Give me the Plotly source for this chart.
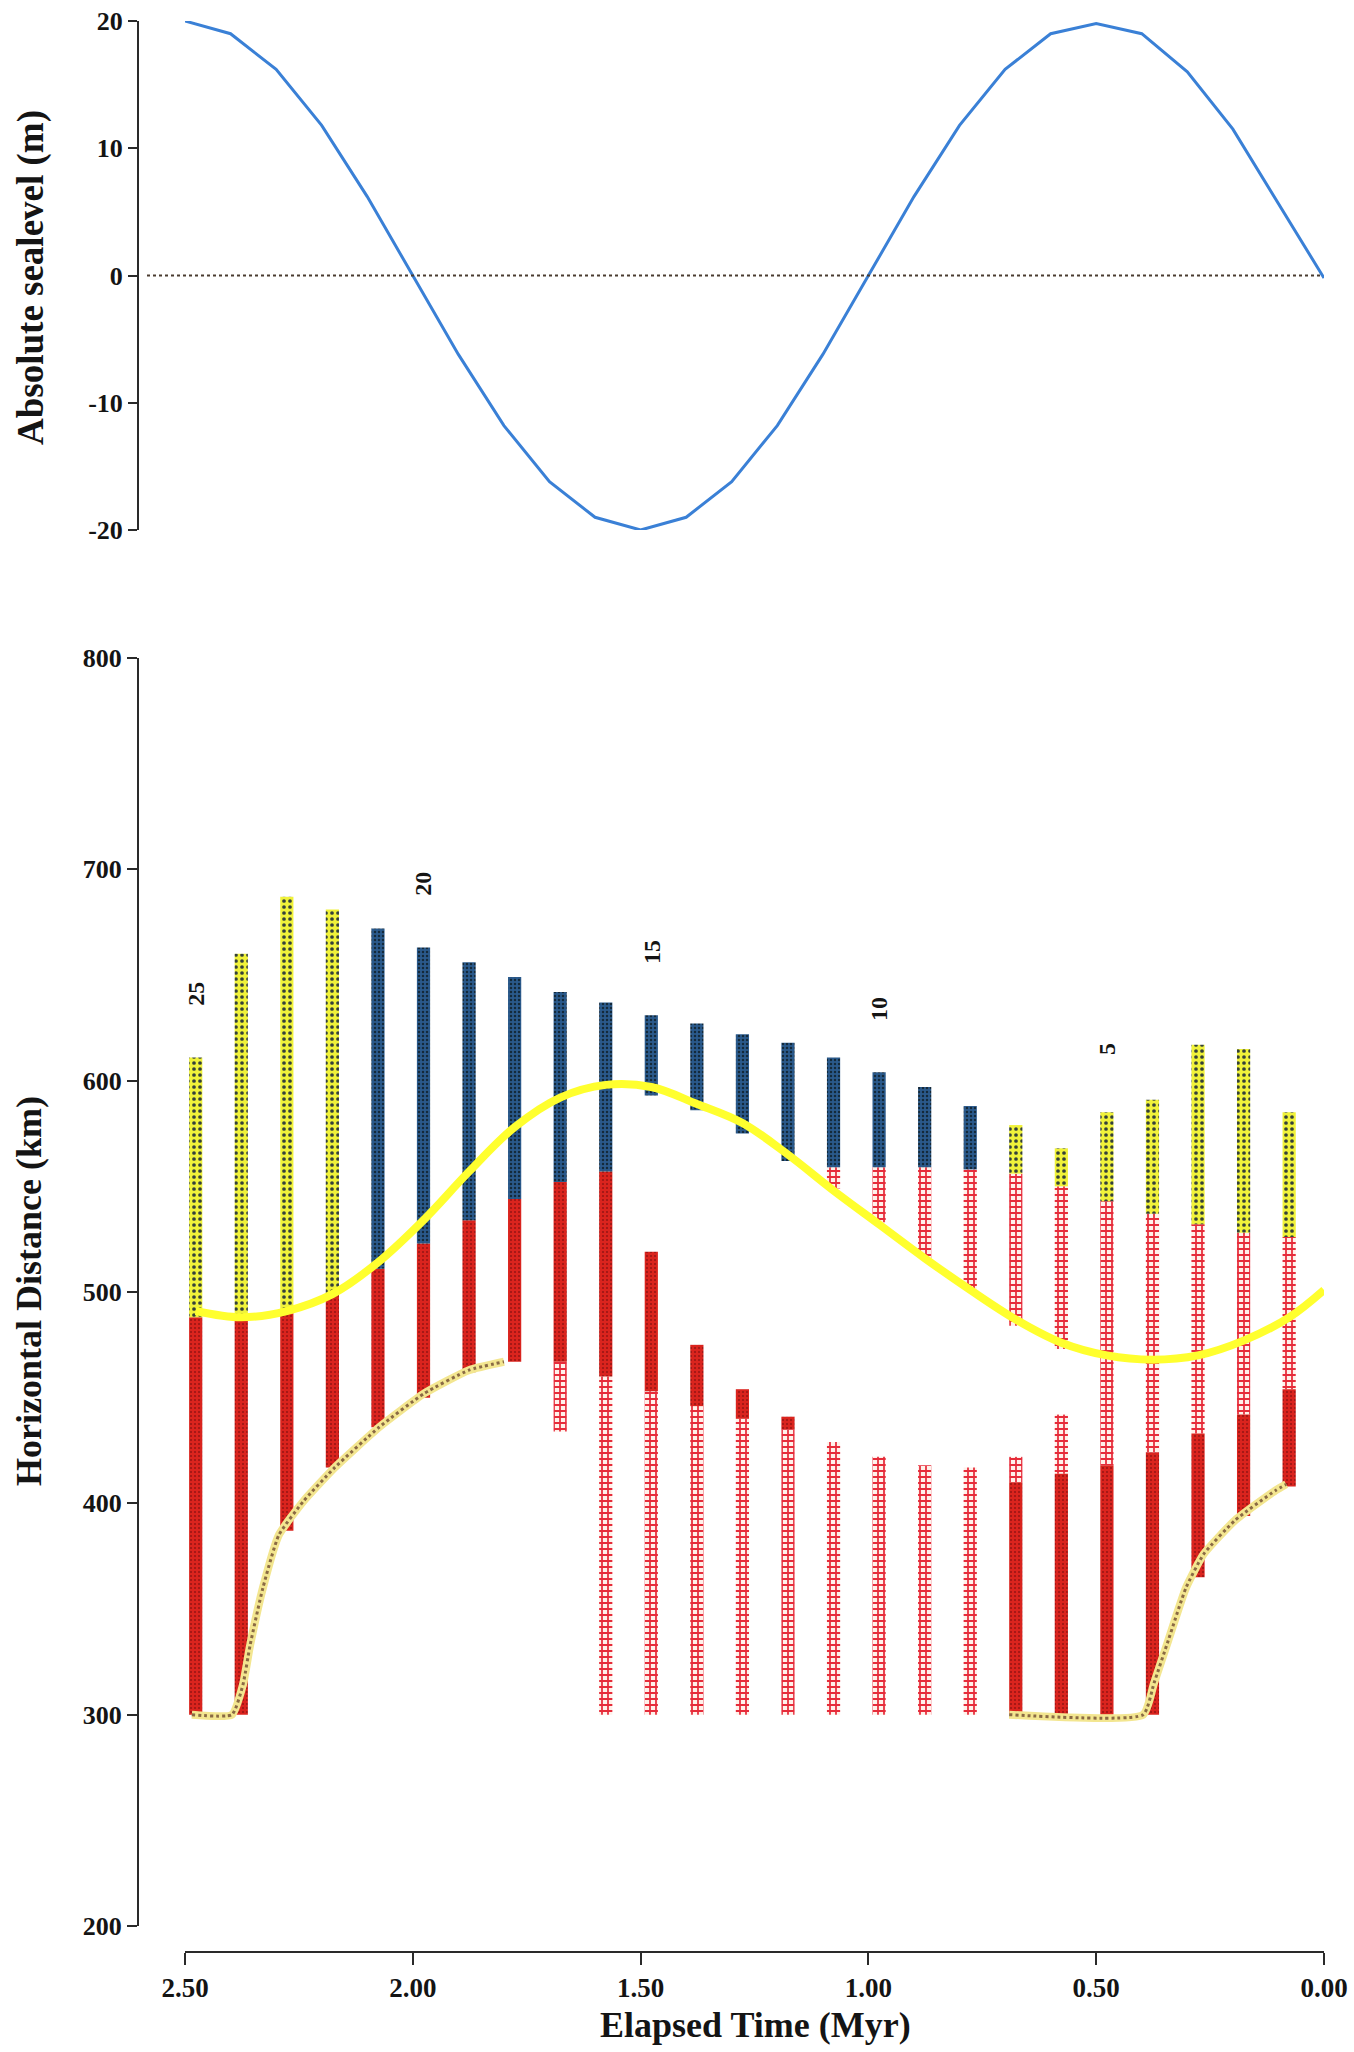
import plotly.graph_objects as go

# ---------------- data ----------------
# Upper panel: absolute sea level through time
T_SEA = [2.5, 2.4, 2.3, 2.2, 2.1, 2.0, 1.9, 1.8, 1.7, 1.6, 1.5, 1.4, 1.3,
         1.2, 1.1, 1.0, 0.9, 0.8, 0.7, 0.6, 0.5, 0.4, 0.3, 0.2, 0.1, 0.0]
SEA_LEVEL = [20.0, 19.0, 16.2, 11.8, 6.2, 0.0, -6.2, -11.8, -16.2, -19.0,
             -20.0, -19.0, -16.2, -11.8, -6.2, 0.0, 6.2, 11.8, 16.2, 19.0,
             19.8, 19.0, 16.0, 11.5, 5.6, -0.2]

# Lower panel: facies columns for each time step (km)
T_BARS = [2.5, 2.4, 2.3, 2.2, 2.1, 2.0, 1.9, 1.8, 1.7, 1.6, 1.5, 1.4, 1.3,
          1.2, 1.1, 1.0, 0.9, 0.8, 0.7, 0.6, 0.5, 0.4, 0.3, 0.2, 0.1]
STEP_LABELS = ["25", "20", "15", "10", "5"]
LABELED_STEPS = [0, 5, 10, 15, 20]

RED_BASE = [300, 300, 387, 417, 436, 450, 462, 467, 467, 460, 453, 446, 440,
            435, None, None, None, None, 300, 300, 300, 300, 365, 394, 408]
RED_TOP = [488, 487, 490, 499, 511, 523, 534, 544, 552, 557, 519, 475, 454,
           441, None, None, None, None, 410, 414, 418, 424, 433, 442, 454]

PINK_LOW_BASE = [None, None, None, None, None, None, None, None, 434, 300, 300, 300, 300,
                 300, 300, 300, 300, 300, 410, 414, None, None, None, None, None]
PINK_LOW_TOP = [None, None, None, None, None, None, None, None, 467, 460, 453, 446, 440,
                435, 429, 422, 418, 417, 422, 442, None, None, None, None, None]

PINK_HIGH_BASE = [None, None, None, None, None, None, None, None, None, None, None, None, None,
                  None, 549, 533, 516, 501, 484, 473, 418, 424, 433, 442, 454]
PINK_HIGH_TOP = [None, None, None, None, None, None, None, None, None, None, None, None, None,
                 None, 559, 559, 559, 558, 556, 550, 543, 537, 532, 528, 526]

BLUE_BASE = [None, None, None, None, 511, 523, 534, 544, 552, 557, 593, 586, 575,
             562, 559, 559, 559, 558, None, None, None, None, None, None, None]
BLUE_TOP = [None, None, None, None, 672, 663, 656, 649, 642, 637, 631, 627, 622,
            618, 611, 604, 597, 588, None, None, None, None, None, None, None]

GREEN_BASE = [488, 487, 490, 499, None, None, None, None, None, None, None, None, None,
              None, None, None, None, None, 556, 550, 543, 537, 532, 528, 526]
GREEN_TOP = [611, 660, 687, 681, None, None, None, None, None, None, None, None, None,
             None, None, None, None, None, 579, 568, 585, 591, 617, 615, 585]

# Shoreline position (thick yellow curve), one value per column plus t = 0
SHORE_KM = [491, 488, 491, 499, 514, 534, 557, 578, 592, 598, 597, 589, 580,
            565, 548, 532, 516, 501, 487, 476, 470, 468, 470, 477, 488, 501]

# Lower dotted envelope (two branches)
EDGE_LEFT_T = [2.485, 2.397, 2.373, 2.357, 2.329, 2.294, 2.240, 2.171, 2.074, 1.975, 1.877, 1.800]
EDGE_LEFT_KM = [300, 300, 314, 333, 360, 385, 401, 417, 436, 452, 463, 467]
EDGE_RIGHT_T = [0.691, 0.397, 0.373, 0.342, 0.303, 0.264, 0.195, 0.107, 0.083]
EDGE_RIGHT_KM = [300, 300, 315, 335, 360, 376, 392, 406, 409]

X_TICKS = [2.5, 2.0, 1.5, 1.0, 0.5, 0.0]
X_TICKTEXT = ["2.50", "2.00", "1.50", "1.00", "0.50", "0.00"]

# ---------------- layout geometry ----------------
W, H = 1354, 2052
BAR_W = 0.029
BAR_OFFSET = -0.038            # column drawn just to the right of its time tick
BAR_CENTER_SHIFT = -(BAR_OFFSET + BAR_W / 2)

SERIF = "Liberation Serif"
INK = "#141414"
AXIS_INK = "#2a2a2a"


def px_x(p):
    return p / W


def px_y(p):
    return 1 - p / H


fig = go.Figure()

# Upper panel
fig.add_trace(go.Scatter(
    x=T_SEA, y=SEA_LEVEL, xaxis="x2", yaxis="y2", mode="lines",
    line=dict(color="#3a80d6", width=3), showlegend=False, hoverinfo="skip"))


def add_segments(base, top, fill, name):
    xs, bs, hs = [], [], []
    for t, b, tp in zip(T_BARS, base, top):
        if b is None or tp is None:
            continue
        xs.append(t)
        bs.append(b)
        hs.append(tp - b)
    fig.add_trace(go.Bar(
        x=xs, y=hs, base=bs, width=BAR_W, offset=BAR_OFFSET, name=name,
        marker=dict(color=fill["bg"], line=dict(width=0),
                    pattern=dict(shape=fill["shape"], bgcolor=fill["bg"],
                                 fgcolor=fill["fg"], size=fill["size"],
                                 solidity=fill["solidity"], fillmode="replace")),
        showlegend=False, hoverinfo="skip"))


RED_FILL = dict(bg="#da241e", fg="#9a1414", shape=".", size=4, solidity=0.22)
PINK_FILL = dict(bg="#fff1ea", fg="#e62c3a", shape="+", size=6, solidity=0.5)
BLUE_FILL = dict(bg="#2a5a8c", fg="#13293a", shape=".", size=4, solidity=0.3)
GREEN_FILL = dict(bg="#f0f23a", fg="#34403a", shape=".", size=6, solidity=0.3)

add_segments(PINK_LOW_BASE, PINK_LOW_TOP, PINK_FILL, "pink-low")
add_segments(PINK_HIGH_BASE, PINK_HIGH_TOP, PINK_FILL, "pink-high")
add_segments(RED_BASE, RED_TOP, RED_FILL, "red")
add_segments(BLUE_BASE, BLUE_TOP, BLUE_FILL, "blue")
add_segments(GREEN_BASE, GREEN_TOP, GREEN_FILL, "green")

# Lower dotted envelope
for ts, ks in ((EDGE_LEFT_T, EDGE_LEFT_KM), (EDGE_RIGHT_T, EDGE_RIGHT_KM)):
    fig.add_trace(go.Scatter(x=ts, y=ks, mode="lines",
                             line=dict(color="#f3e690", width=8, shape="spline", smoothing=0.5),
                             showlegend=False, hoverinfo="skip"))
    fig.add_trace(go.Scatter(x=ts, y=ks, mode="lines",
                             line=dict(color="#8a6a44", width=3, dash="dot",
                                       shape="spline", smoothing=0.5),
                             showlegend=False, hoverinfo="skip"))

# Shoreline curve
shore_t = [t - BAR_CENTER_SHIFT for t in T_BARS] + [0.0]
fig.add_trace(go.Scatter(x=shore_t, y=SHORE_KM, mode="lines",
                         line=dict(color="#ffff2e", width=8, shape="spline"),
                         showlegend=False, hoverinfo="skip"))

# Column step numbers
annotations = []
for lab, i in zip(STEP_LABELS, LABELED_STEPS):
    tops = [v[i] for v in (RED_TOP, PINK_LOW_TOP, PINK_HIGH_TOP, BLUE_TOP, GREEN_TOP)
            if v[i] is not None]
    annotations.append(dict(
        x=T_BARS[i] - BAR_CENTER_SHIFT, y=max(tops) + 30, xref="x", yref="y",
        xanchor="center", yanchor="middle",
        text=lab, showarrow=False, textangle=-90,
        font=dict(family=SERIF, size=24, color=INK, weight="bold")))

# Axis titles
title_font = dict(family=SERIF, size=36, color=INK, weight="bold")
annotations += [
    dict(x=px_x(31), y=px_y(278), xref="paper", yref="paper", text="Absolute sealevel (m)",
         xanchor="center", yanchor="middle", textangle=-90, showarrow=False,
         font=dict(title_font, size=37)),
    dict(x=px_x(29), y=px_y(1291), xref="paper", yref="paper", text="Horizontal Distance (km)",
         xanchor="center", yanchor="middle", textangle=-90, showarrow=False,
         font=title_font),
    dict(x=px_x(755), y=px_y(2025), xref="paper", yref="paper", text="Elapsed Time (Myr)",
         xanchor="center", yanchor="middle", showarrow=False, font=title_font),
]

tickfont = dict(family=SERIF, size=26, color=INK, weight="bold")
x_dom = [px_x(185), px_x(1324)]
y_axis_pos = px_x(138)

fig.update_layout(
    template="none",
    width=W, height=H, margin=dict(l=0, r=0, t=0, b=0, autoexpand=False),
    paper_bgcolor="white", plot_bgcolor="white",
    barmode="overlay", showlegend=False,
    annotations=annotations,
    shapes=[dict(type="line", xref="paper", yref="y2", x0=px_x(147), x1=px_x(1323),
                 y0=0, y1=0, line=dict(color="#4a3c30", width=2, dash="dot"))],
    xaxis=dict(domain=x_dom, range=[2.5, 0.0], anchor="free", position=px_y(1952),
               automargin=False, showgrid=False, zeroline=False, showline=True,
               linecolor=AXIS_INK, linewidth=2, ticks="outside", ticklen=12, tickwidth=2,
               tickcolor=AXIS_INK, tickvals=X_TICKS, ticktext=X_TICKTEXT,
               tickfont=dict(family=SERIF, size=27, color=INK, weight="bold")),
    yaxis=dict(domain=[px_y(1926), px_y(658)], range=[200, 800], anchor="free",
               position=y_axis_pos, automargin=False, showgrid=False, zeroline=False,
               showline=True, linecolor=AXIS_INK, linewidth=2, ticks="outside", ticklen=10,
               tickwidth=2, tickcolor=AXIS_INK, tickvals=[200, 300, 400, 500, 600, 700, 800],
               tickfont=tickfont),
    xaxis2=dict(domain=x_dom, range=[2.5, 0.0], anchor="y2", visible=False, automargin=False),
    yaxis2=dict(domain=[px_y(530), px_y(21)], range=[-20, 20], anchor="free",
                position=y_axis_pos, automargin=False, showgrid=False, zeroline=False,
                showline=True, linecolor=AXIS_INK, linewidth=2, ticks="outside", ticklen=9,
                tickwidth=2, tickcolor=AXIS_INK, tickvals=[20, 10, 0, -10, -20],
                ticktext=["20", "10", "0", "-10", "-20"], tickfont=tickfont),
)

fig.write_html("out.html")
